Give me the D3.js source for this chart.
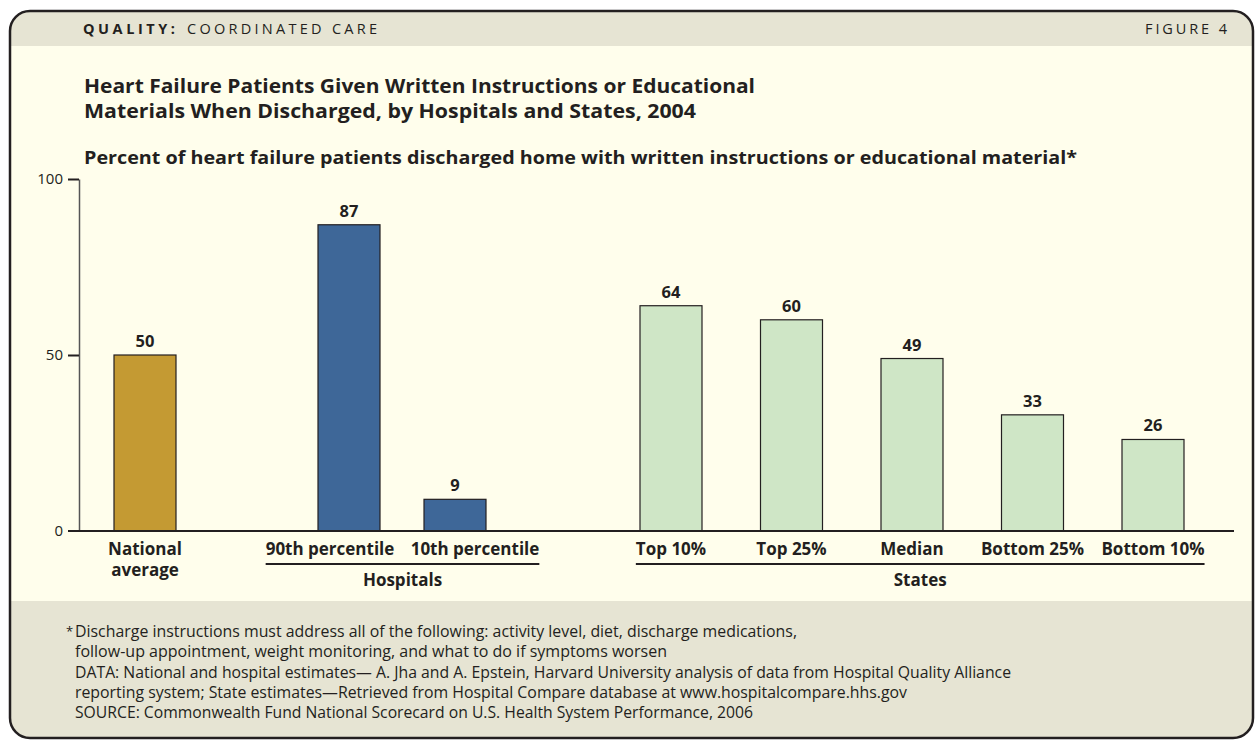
<!DOCTYPE html>
<html>
<head>
<meta charset="utf-8">
<script src="https://cdnjs.cloudflare.com/ajax/libs/d3/7.8.5/d3.min.js"></script>
<style>
  body { margin: 0; background: #ffffff; }
  svg text { font-family: "Open Sans", "Noto Sans", sans-serif; fill: #231f20; }
</style>
</head>
<body>
<svg id="chart" width="1256" height="740"></svg>
<script>
// data
var nationalLabel = ["National", "average"];
var nationalValue = [50];
var hospitalCats = ["90th percentile", "10th percentile"];
var hospitalValues = [87, 9];
var stateCats = ["Top 10%", "Top 25%", "Median", "Bottom 25%", "Bottom 10%"];
var stateValues = [64, 60, 49, 33, 26];
var yTicks = [0, 50, 100];

var headerBold = "QUALITY:";
var headerRest = "COORDINATED CARE";
var figureLabel = "FIGURE 4";
var titleLines = [
  "Heart Failure Patients Given Written Instructions or Educational",
  "Materials When Discharged, by Hospitals and States, 2004"
];
var subtitle = "Percent of heart failure patients discharged home with written instructions or educational material*";
var notes = [
  "Discharge instructions must address all of the following: activity level, diet, discharge medications,",
  "follow-up appointment, weight monitoring, and what to do if symptoms worsen",
  "DATA: National and hospital estimates\u2014 A. Jha and A. Epstein, Harvard University analysis of data from Hospital Quality Alliance",
  "reporting system; State estimates\u2014Retrieved from Hospital Compare database at www.hospitalcompare.hhs.gov",
  "SOURCE: Commonwealth Fund National Scorecard on U.S. Health System Performance, 2006"
];

var svg = d3.select("#chart");

// frame
var fx = 10, fy = 11, fw = 1243, fh = 727, r = 20;
var defs = svg.append("defs");
defs.append("clipPath").attr("id", "frameClip")
  .append("rect").attr("x", fx).attr("y", fy).attr("width", fw).attr("height", fh)
  .attr("rx", r).attr("ry", r);

var bg = svg.append("g").attr("clip-path", "url(#frameClip)");
bg.append("rect").attr("x", fx).attr("y", fy).attr("width", fw).attr("height", 35).attr("fill", "#e6e4d3");
bg.append("rect").attr("x", fx).attr("y", 46).attr("width", fw).attr("height", 555).attr("fill", "#fffeec");
bg.append("rect").attr("x", fx).attr("y", 601).attr("width", fw).attr("height", 140).attr("fill", "#e6e4d3");
svg.append("rect").attr("x", fx).attr("y", fy).attr("width", fw).attr("height", fh)
  .attr("rx", r).attr("ry", r).attr("fill", "none").attr("stroke", "#231f20").attr("stroke-width", 2.5);

// header
var hdr = svg.append("text").attr("x", 83).attr("y", 34).style("font-size", "14.5px").style("letter-spacing", "3px");
hdr.append("tspan").style("font-weight", "bold").attr("textLength", 95).text(headerBold);
hdr.append("tspan").attr("x", 187).attr("textLength", 193).text(headerRest);
svg.append("text").attr("x", 1145).attr("y", 34).attr("textLength", 85)
  .style("font-size", "14.5px").style("letter-spacing", "3px").text(figureLabel);

// titles
svg.selectAll(".title").data(titleLines).join("text").attr("class", "title")
  .attr("x", 84).attr("y", (d, i) => 93 + i * 25)
  .attr("textLength", (d, i) => i === 0 ? 671 : 612).attr("lengthAdjust", "spacingAndGlyphs")
  .style("font-size", "19.5px").style("font-weight", "bold").text(d => d);

svg.append("text").attr("x", 84).attr("y", 164)
  .attr("textLength", 993).attr("lengthAdjust", "spacingAndGlyphs")
  .style("font-size", "17.5px").style("font-weight", "bold").text(subtitle);

// scales
var y = d3.scaleLinear().domain([0, 100]).range([531, 179]);
var barW = 62;
var xNat = d3.scalePoint().domain([nationalLabel.join(" ")]).range([145, 145]);
var xHosp = d3.scalePoint().domain(hospitalCats).range([349, 455]);
var xHospLabel = d3.scalePoint().domain(hospitalCats).range([330, 475]);
var xState = d3.scalePoint().domain(stateCats).range([671, 1153]);

var bars = [].concat(
  nationalValue.map(v => ({ cat: nationalLabel.join(" "), v: v, x: xNat(nationalLabel.join(" ")), fill: "#c49a33" })),
  hospitalCats.map((c, i) => ({ cat: c, v: hospitalValues[i], x: xHosp(c), fill: "#3e6798" })),
  stateCats.map((c, i) => ({ cat: c, v: stateValues[i], x: xState(c), fill: "#cfe6c6" }))
);

// y axis
var yAxis = svg.append("g").attr("transform", "translate(79,0)")
  .call(d3.axisLeft(y).tickValues(yTicks).tickSize(11).tickSizeOuter(0).tickPadding(5));
yAxis.select(".domain").attr("stroke", "#555").attr("stroke-width", 1.5);
yAxis.selectAll(".tick line").attr("stroke", "#231f20").attr("stroke-width", 2);
yAxis.selectAll(".tick text").style("font-size", "15px").style("font-family", "'Open Sans', sans-serif").attr("fill", "#231f20");
yAxis.selectAll(".tick").filter(d => d === 0).select("line").remove();

// bars
svg.selectAll(".bar").data(bars).join("rect").attr("class", "bar")
  .attr("x", d => d.x - barW / 2).attr("y", d => y(d.v))
  .attr("width", barW).attr("height", d => y(0) - y(d.v))
  .attr("fill", d => d.fill).attr("stroke", "#231f20").attr("stroke-width", 1.2);

svg.selectAll(".val").data(bars).join("text").attr("class", "val")
  .attr("x", d => d.x).attr("y", d => y(d.v) - 8).attr("text-anchor", "middle")
  .style("font-size", "16.5px").style("font-weight", "bold").text(d => d.v);

// baseline
svg.append("line").attr("x1", 68).attr("x2", 1234).attr("y1", y(0)).attr("y2", y(0))
  .attr("stroke", "#231f20").attr("stroke-width", 2.2);

// category labels
svg.selectAll(".nat").data(nationalLabel).join("text").attr("class", "nat")
  .attr("x", 145).attr("y", (d, i) => 555 + i * 21).attr("text-anchor", "middle")
  .style("font-size", "17px").style("font-weight", "bold").text(d => d);

function groupLabels(cats, scale, name) {
  var g = svg.append("g");
  var t = g.selectAll("text").data(cats).join("text")
    .attr("x", d => scale(d)).attr("y", 555).attr("text-anchor", "middle")
    .style("font-size", "17px").style("font-weight", "bold").text(d => d);
  var boxes = t.nodes().map(n => n.getBBox());
  var x0 = d3.min(boxes, b => b.x), x1 = d3.max(boxes, b => b.x + b.width);
  g.append("line").attr("x1", x0).attr("x2", x1).attr("y1", 564).attr("y2", 564)
    .attr("stroke", "#231f20").attr("stroke-width", 1.8);
  g.append("text").attr("x", (x0 + x1) / 2).attr("y", 586).attr("text-anchor", "middle")
    .style("font-size", "17px").style("font-weight", "bold").text(name);
}
groupLabels(hospitalCats, xHospLabel, "Hospitals");
groupLabels(stateCats, xState, "States");

// notes
var noteLens = [722, 592, 936, 832, 678];
svg.append("text").attr("x", 66).attr("y", 636).style("font-size", "13px").text("*");
svg.selectAll(".note").data(notes).join("text").attr("class", "note")
  .attr("x", 75).attr("y", (d, i) => 637 + i * 20.3)
  .attr("textLength", (d, i) => noteLens[i]).attr("lengthAdjust", "spacingAndGlyphs")
  .style("font-size", "15.5px").text(d => d);
</script>
</body>
</html>
